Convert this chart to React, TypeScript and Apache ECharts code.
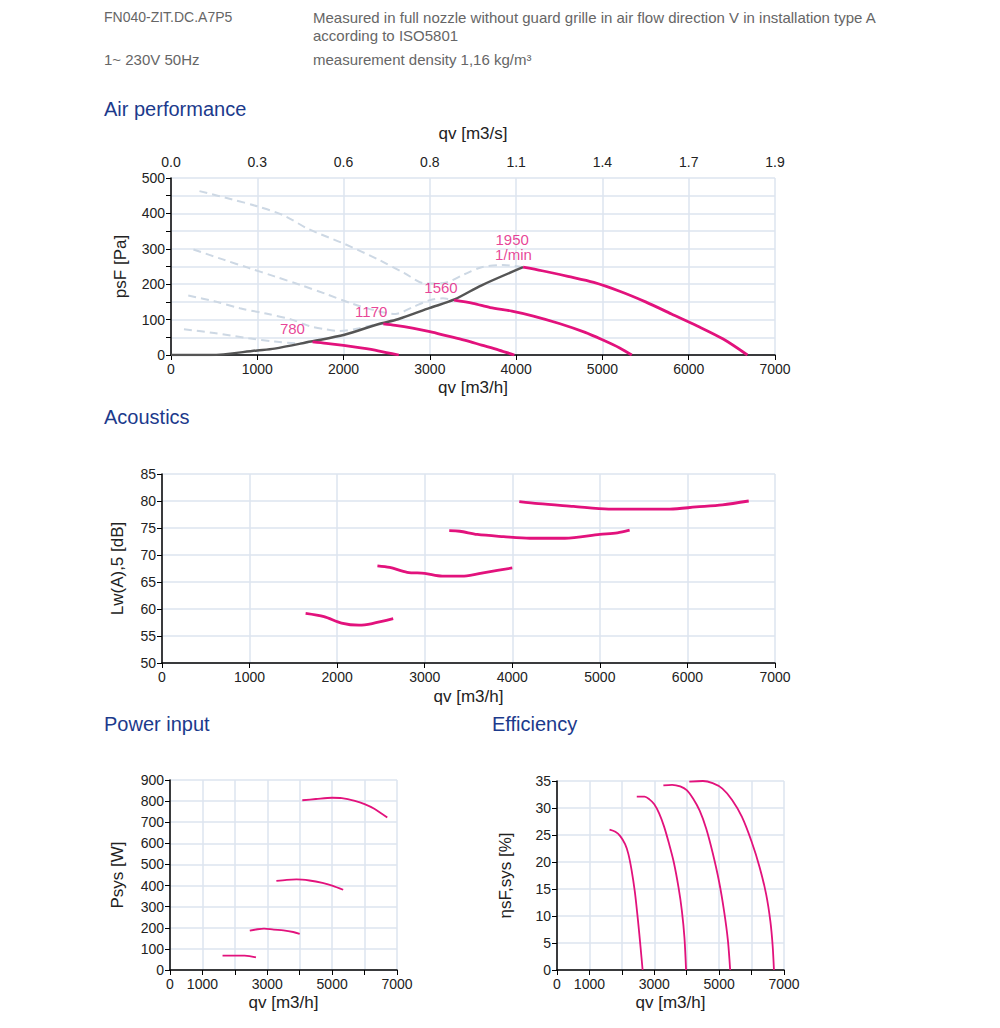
import React, { useEffect, useRef } from 'react';
import * as echarts from 'echarts';

// ---------- data ----------
const qvTicks = [0, 1000, 2000, 3000, 4000, 5000, 6000, 7000];
const qvTopLabels = ['0.0', '0.3', '0.6', '0.8', '1.1', '1.4', '1.7', '1.9'];
const smallQvLabels = ['0', '1000', '', '3000', '', '5000', '', '7000'];
const speeds = ['780', '1170', '1560', '1950'];

// Air performance psF [Pa] vs qv [m3/h]
const air780 = [[1640, 37], [1800, 33], [2000, 27], [2200, 20], [2400, 12], [2640, 0]];
const air1170 = [[2460, 88], [2600, 84], [2800, 76], [3000, 66], [3200, 54], [3400, 42], [3600, 28], [3800, 14], [3980, 0]];
const air1560 = [[3280, 155], [3500, 146], [3700, 134], [3950, 124], [4200, 110], [4500, 89], [4800, 64], [5000, 43], [5200, 20], [5340, 0]];
const air1950 = [[4080, 248], [4300, 238], [4600, 222], [4900, 205], [5200, 180], [5500, 150], [5800, 116], [6100, 82], [6400, 45], [6680, 0]];
const airSystem = [[0, 0], [460, 0], [1000, 13], [1200, 18], [1620, 38], [2010, 57], [2400, 87], [2630, 101], [3000, 133], [3285, 157], [3600, 197], [4080, 248]];
const airDash1 = [[330, 463], [700, 440], [1000, 420], [1300, 395], [1600, 355], [2000, 315], [2400, 270], [2700, 232], [2950, 202], [3150, 203], [3400, 228], [3600, 248], [3850, 254], [4080, 248]];
const airDash2 = [[260, 298], [600, 270], [900, 246], [1200, 222], [1500, 198], [1800, 172], [2100, 145], [2400, 124], [2600, 116], [2800, 135], [3000, 155], [3150, 160], [3280, 155]];
const airDash3 = [[200, 168], [500, 152], [800, 132], [1100, 117], [1400, 100], [1600, 82], [1800, 72], [1950, 68], [2150, 74], [2300, 82], [2460, 88]];
const airDash4 = [[150, 73], [500, 62], [900, 47], [1200, 38], [1450, 33], [1640, 37]];
const airLabels = [
  { name: '780', value: [1407, 74] },
  { name: '1170', value: [2320, 123] },
  { name: '1560', value: [3129, 191] },
  { name: '1950', value: [3954, 326] },
  { name: '1/min', value: [3969, 283] },
];

// Acoustics Lw(A),5 [dB]
const ac780 = [[1640, 59.2], [1850, 58.6], [2050, 57.4], [2250, 57.0], [2400, 57.3], [2640, 58.2]];
const ac1170 = [[2460, 68.0], [2600, 67.7], [2800, 66.8], [3000, 66.6], [3200, 66.1], [3450, 66.1], [3700, 66.8], [4000, 67.6]];
const ac1560 = [[3280, 74.5], [3400, 74.4], [3600, 73.8], [3900, 73.4], [4200, 73.1], [4600, 73.1], [5000, 73.8], [5200, 74.1], [5340, 74.6]];
const ac1950 = [[4080, 79.9], [4300, 79.5], [4700, 79.0], [5100, 78.5], [5500, 78.5], [5800, 78.5], [6100, 78.9], [6400, 79.3], [6700, 80.0]];

// Power input Psys [W]
const pw780 = [[1620, 68], [2000, 68], [2300, 68], [2450, 66], [2650, 60]];
const pw1170 = [[2460, 186], [2700, 193], [2900, 196], [3200, 191], [3500, 188], [3800, 180], [4000, 171]];
const pw1560 = [[3280, 422], [3600, 427], [3900, 429], [4300, 424], [4700, 413], [5000, 400], [5340, 380]];
const pw1950 = [[4080, 804], [4500, 810], [5000, 816], [5300, 814], [5700, 801], [6000, 786], [6300, 764], [6700, 722]];

// Efficiency ηsF,sys [%]
const ef780 = [[1620, 26], [1800, 25.6], [1950, 24.8], [2100, 23.3], [2200, 21.5], [2300, 18.5], [2400, 14.5], [2500, 9], [2580, 4], [2640, 0]];
const ef1170 = [[2460, 32.1], [2700, 32.1], [2850, 31.6], [3000, 30.7], [3150, 29.0], [3300, 26.6], [3450, 23.5], [3600, 20], [3750, 15.2], [3850, 11], [3930, 6], [3980, 0]];
const ef1560 = [[3280, 34.2], [3550, 34.3], [3800, 34.0], [4000, 33.3], [4200, 31.7], [4400, 29.5], [4600, 26.2], [4800, 21.7], [5000, 16.3], [5150, 11], [5270, 5.5], [5340, 0]];
const ef1950 = [[4080, 34.9], [4500, 35.0], [4800, 34.6], [5100, 33.6], [5400, 31.5], [5700, 28.4], [6000, 23.8], [6250, 19], [6450, 14], [6580, 9], [6650, 4.5], [6690, 0]];

// ---------- styles ----------
const PINK = '#e2127c';
const GRIDC = '#dde5ef';
const DASHC = '#cdd8e4';
const NARROW = '"Liberation Sans Narrow", "Liberation Sans", Arial, sans-serif';
const SANS = '"Liberation Sans", Arial, sans-serif';
const LABELC = '#222';
const NAME_FS = 17;
const LABEL_FS = 14;

function xAxisBase(gridIndex: number, labels: string[] | null, nameGap: number) {
  return {
    type: 'value',
    gridIndex,
    min: qvTicks[0],
    max: qvTicks[qvTicks.length - 1],
    interval: 1000,
    name: 'qv [m3/h]',
    nameLocation: 'middle',
    nameGap,
    nameTextStyle: { fontFamily: SANS, fontSize: NAME_FS, color: LABELC },
    axisLine: { show: true, onZero: false, lineStyle: { color: '#000', width: 1.5 } },
    axisTick: { show: true, length: 5, lineStyle: { color: '#000' } },
    axisLabel: {
      fontFamily: SANS, fontSize: LABEL_FS, color: LABELC, margin: 7,
      formatter: (v: number) => {
        const i = qvTicks.indexOf(v);
        if (labels) return i >= 0 ? labels[i] : '';
        return String(v);
      },
    },
    splitLine: { show: true, lineStyle: { color: GRIDC, width: 1.5 } },
  };
}

function yAxisBase(gridIndex: number, name: string, min: number, max: number, interval: number, labelEvery: number, nameGap: number) {
  return {
    type: 'value',
    gridIndex,
    min, max, interval,
    name,
    nameLocation: 'middle',
    nameGap,
    nameTextStyle: { fontFamily: SANS, fontSize: NAME_FS, color: LABELC },
    axisLine: { show: true, lineStyle: { color: '#000', width: 1.5 } },
    axisTick: { show: true, length: 5, lineStyle: { color: '#000' } },
    axisLabel: {
      fontFamily: SANS, fontSize: LABEL_FS, color: LABELC, margin: 6,
      formatter: (v: number) => (Math.round(v) % labelEvery === 0 ? String(v) : ''),
    },
    splitLine: { show: true, lineStyle: { color: GRIDC, width: 1.5 } },
  };
}

function line(data: number[][], xi: number, yi: number, color: string, width: number, dashed = false, name = '') {
  return {
    type: 'line',
    name,
    xAxisIndex: xi,
    yAxisIndex: yi,
    data,
    showSymbol: false,
    symbol: 'none',
    smooth: 0.3,
    silent: true,
    lineStyle: { color, width, type: dashed ? [8, 5] : 'solid' },
    z: dashed ? 2 : 3,
  };
}

export default function App() {
  const ref = useRef<HTMLDivElement>(null);

  useEffect(() => {
    document.body.style.margin = '0';
    if (!ref.current) return;
    const chart = echarts.init(ref.current, undefined, { renderer: 'svg' });

    const headerStyle = { fontFamily: SANS, fontSize: 15, fill: '#666' };
    const titleStyle = { fontFamily: SANS, fontSize: 20, fill: '#1c3a8c' };

    const option: any = {
      animation: false,
      backgroundColor: '#fff',
      graphic: [
        { type: 'text', left: 104, top: 10, style: { ...headerStyle, fontSize: 14, text: 'FN040-ZIT.DC.A7P5' } },
        { type: 'text', left: 313, top: 10, style: { ...headerStyle, text: 'Measured in full nozzle without guard grille in air flow direction V in installation type A' } },
        { type: 'text', left: 313, top: 28, style: { ...headerStyle, text: 'according to ISO5801' } },
        { type: 'text', left: 104, top: 52, style: { ...headerStyle, text: '1~ 230V 50Hz' } },
        { type: 'text', left: 313, top: 52, style: { ...headerStyle, text: 'measurement density 1,16 kg/m³' } },
        { type: 'text', left: 104, top: 99, style: { ...titleStyle, text: 'Air performance' } },
        { type: 'text', left: 104, top: 407, style: { ...titleStyle, text: 'Acoustics' } },
        { type: 'text', left: 104, top: 714, style: { ...titleStyle, text: 'Power input' } },
        { type: 'text', left: 492, top: 714, style: { ...titleStyle, text: 'Efficiency' } },
      ],
      grid: [
        { left: 171, right: 225, top: 178, height: 177 },
        { left: 162, right: 225, top: 474, height: 189 },
        { left: 170, right: 603, top: 780, height: 190 },
        { left: 557, right: 216, top: 781, height: 189 },
      ],
      xAxis: [
        xAxisBase(0, null, 24),
        {
          type: 'value', gridIndex: 0, position: 'top',
          min: qvTicks[0], max: qvTicks[qvTicks.length - 1], interval: 1000,
          name: 'qv [m3/s]', nameLocation: 'middle', nameGap: 36,
          nameTextStyle: { fontFamily: SANS, fontSize: NAME_FS, color: LABELC },
          axisLine: { show: false }, axisTick: { show: false },
          axisLabel: {
            fontFamily: SANS, fontSize: LABEL_FS, color: LABELC, margin: 9,
            formatter: (v: number) => { const i = qvTicks.indexOf(v); return i >= 0 ? qvTopLabels[i] : ''; },
          },
          splitLine: { show: false },
        },
        xAxisBase(1, null, 25),
        xAxisBase(2, smallQvLabels, 24),
        xAxisBase(3, smallQvLabels, 24),
      ],
      yAxis: [
        yAxisBase(0, 'psF [Pa]', 0, 500, 50, 100, 42),
        yAxisBase(1, 'Lw(A),5 [dB]', 50, 85, 5, 5, 36),
        yAxisBase(2, 'Psys [W]', 0, 900, 100, 100, 44),
        yAxisBase(3, 'ηsF,sys [%]', 0, 35, 5, 5, 43),
      ],
      series: [
        line(airDash1, 0, 0, DASHC, 2, true),
        line(airDash2, 0, 0, DASHC, 2, true),
        line(airDash3, 0, 0, DASHC, 2, true),
        line(airDash4, 0, 0, DASHC, 2, true),
        line(airSystem, 0, 0, '#555', 2.5),
        line(air780, 0, 0, PINK, 2.8, false, speeds[0]),
        line(air1170, 0, 0, PINK, 2.8, false, speeds[1]),
        line(air1560, 0, 0, PINK, 2.8, false, speeds[2]),
        line(air1950, 0, 0, PINK, 2.8, false, speeds[3]),
        {
          type: 'scatter', xAxisIndex: 0, yAxisIndex: 0, symbolSize: 0, silent: true, z: 5,
          data: airLabels,
          label: {
            show: true, position: 'inside', formatter: (p: any) => p.name,
            fontFamily: SANS, fontSize: 15, color: PINK,
          },
        },
        line(ac780, 2, 1, PINK, 2.8),
        line(ac1170, 2, 1, PINK, 2.8),
        line(ac1560, 2, 1, PINK, 2.8),
        line(ac1950, 2, 1, PINK, 2.8),
        line(pw780, 3, 2, PINK, 1.8),
        line(pw1170, 3, 2, PINK, 1.8),
        line(pw1560, 3, 2, PINK, 1.8),
        line(pw1950, 3, 2, PINK, 1.8),
        line(ef780, 4, 3, PINK, 1.8),
        line(ef1170, 4, 3, PINK, 1.8),
        line(ef1560, 4, 3, PINK, 1.8),
        line(ef1950, 4, 3, PINK, 1.8),
      ],
    };
    chart.setOption(option);
    return () => chart.dispose();
  }, []);

  return <div ref={ref} style={{ width: 1000, height: 1028 }} />;
}
